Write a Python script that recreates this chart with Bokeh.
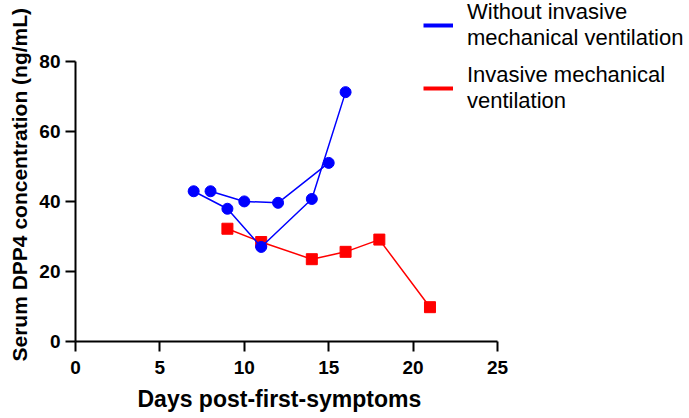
from bokeh.plotting import figure
from bokeh.models import Range1d, Legend, LegendItem, FixedTicker, Title
from bokeh.embed import file_html
from bokeh.resources import INLINE

# ---- data ----
# Without invasive mechanical ventilation: two patients
days_pat_a = [7, 9, 11, 14, 16]
conc_pat_a = [42.9, 37.9, 27.0, 40.7, 71.2]
days_pat_b = [8, 10, 12, 15]
conc_pat_b = [42.9, 40.0, 39.6, 51.0]
# Invasive mechanical ventilation: one patient
days_imv = [9, 11, 14, 16, 18, 21]
conc_imv = [32.2, 28.4, 23.5, 25.6, 29.1, 9.8]

x_ticks = [0, 5, 10, 15, 20, 25]
y_ticks = [0, 20, 40, 60, 80]
x_axis_span = (0, 25)
y_axis_span = (0, 80)

BLUE = "#0000FF"
RED = "#FF0000"
FONT = "Liberation Sans"

W, H = 689, 418
LEFT, BOTTOM = 75, 76          # frame starts at the axes
AX_RIGHT, AX_TOP = 497, 61     # pixel ends of the drawn axes
frame_w = W - LEFT
frame_h = H - BOTTOM
x_end = x_axis_span[1] * frame_w / (AX_RIGHT - LEFT)
y_end = y_axis_span[1] * frame_h / (H - BOTTOM - AX_TOP)

p = figure(width=W, height=H,
           x_range=Range1d(0, x_end), y_range=Range1d(0, y_end),
           output_backend="svg", toolbar_location=None,
           min_border_left=LEFT, min_border_right=0,
           min_border_top=0, min_border_bottom=BOTTOM)

p.grid.visible = False
p.outline_line_color = None
p.background_fill_color = "white"
p.border_fill_color = "white"

# red series first (blue circle covers the red square at day 11)
p.line(days_imv, conc_imv, color=RED, line_width=1.5)
p.scatter(days_imv, conc_imv, marker="square", size=11, color=RED)

for xs, ys in ((days_pat_a, conc_pat_a), (days_pat_b, conc_pat_b)):
    p.line(xs, ys, color=BLUE, line_width=1.5)
    p.scatter(xs, ys, marker="circle", size=11, color=BLUE)

# axes
p.xaxis.ticker = FixedTicker(ticks=x_ticks)
p.yaxis.ticker = FixedTicker(ticks=y_ticks)
p.xaxis.bounds = x_axis_span
p.yaxis.bounds = y_axis_span
for ax in (p.xaxis[0], p.yaxis[0]):
    ax.axis_line_width = 2
    ax.axis_line_color = "black"
    ax.major_tick_line_width = 2
    ax.major_tick_line_color = "black"
    ax.major_tick_out = 10
    ax.major_tick_in = 0
    ax.minor_tick_out = 0
    ax.minor_tick_in = 0
    ax.major_label_text_font = FONT
    ax.major_label_text_font_style = "bold"
    ax.major_label_text_font_size = "19px"
    ax.major_label_text_color = "black"
p.xaxis.major_label_standoff = 9
p.yaxis.major_label_standoff = 5

# axis titles (side-panel titles so they sit where the reference has them)
x_title = Title(text="Days post-first-symptoms", align="left", offset=62,
                text_font=FONT, text_font_style="bold", text_font_size="23px",
                text_color="black", standoff=14)
p.add_layout(x_title, "below")
y_title = Title(text="Serum DPP4 concentration (ng/mL)", align="left", offset=-20,
                text_font=FONT, text_font_style="bold", text_font_size="21px",
                text_color="black", standoff=11)
p.add_layout(y_title, "left")

# legend (hidden copies of the series carry the thicker legend line style)
leg_blue = p.line(days_pat_a, conc_pat_a, color=BLUE, line_width=4, visible=False)
leg_red = p.line(days_imv, conc_imv, color=RED, line_width=4, visible=False)
legend = Legend(items=[
    LegendItem(label="Without invasive\nmechanical ventilation", renderers=[leg_blue]),
    LegendItem(label="Invasive mechanical\nventilation", renderers=[leg_red]),
], location=(348, 227))
legend.padding = 0
legend.margin = 0
legend.spacing = 11
legend.glyph_width = 30
legend.glyph_height = 20
legend.label_standoff = 14
legend.label_text_font = FONT
legend.label_text_font_size = "22px"
legend.label_text_color = "black"
legend.background_fill_alpha = 0
legend.border_line_alpha = 0
p.add_layout(legend, "center")

open("out.html", "w").write(file_html(p, INLINE))
